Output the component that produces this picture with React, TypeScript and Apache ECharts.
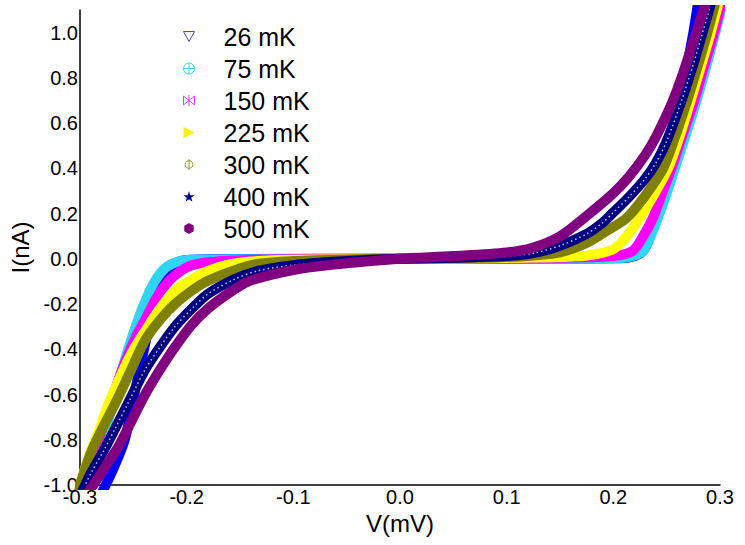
import React, { useEffect, useRef } from "react";
import * as echarts from "echarts";

const seriesNames = ["26 mK", "75 mK", "150 mK", "225 mK", "300 mK", "400 mK", "500 mK"];
const seriesColors = ["#0000ff", "#2fd5f2", "#ff00ff", "#ffff00", "#808000", "#000080", "#800080"];

const iv26: number[][] = [
  [-0.279, -1.03], [-0.268, -0.92], [-0.258, -0.8], [-0.25, -0.62], [-0.24, -0.4], [-0.23, -0.2],
  [-0.22, -0.07], [-0.21, -0.02], [-0.2, -0.005], [-0.15, -0.001], [0, 0], [0.15, 0.001], [0.2, 0.002],
  [0.215, 0.006], [0.228, 0.035], [0.235, 0.12], [0.245, 0.3], [0.255, 0.5], [0.265, 0.75], [0.275, 1.0], [0.279, 1.12],
];
const iv75: number[][] = [
  [-0.291, -1.03], [-0.28, -0.84], [-0.27, -0.65], [-0.26, -0.48], [-0.25, -0.33], [-0.24, -0.2],
  [-0.23, -0.1], [-0.22, -0.04], [-0.21, -0.015], [-0.2, -0.005], [-0.15, -0.002], [0, 0], [0.15, 0.002],
  [0.2, 0.003], [0.215, 0.008], [0.228, 0.035], [0.235, 0.1], [0.2418, 0.181], [0.25, 0.29], [0.2578, 0.402],
  [0.268, 0.55], [0.278, 0.7], [0.287, 0.85], [0.295, 0.99], [0.302, 1.12],
];
const iv150: number[][] = [
  [-0.302, -1.03], [-0.295, -0.95], [-0.285, -0.83], [-0.277, -0.72], [-0.268, -0.59], [-0.258, -0.46],
  [-0.248, -0.35], [-0.239, -0.27], [-0.228, -0.17], [-0.217, -0.1], [-0.206, -0.055], [-0.196, -0.03],
  [-0.18, -0.015], [-0.15, -0.006], [-0.1, -0.002], [0, 0], [0.1, 0.002], [0.15, 0.005], [0.2, 0.012],
  [0.218, 0.035], [0.228, 0.1], [0.2371, 0.181], [0.245, 0.28], [0.2546, 0.402], [0.265, 0.55],
  [0.2759, 0.7], [0.285, 0.85], [0.2938, 0.99], [0.301, 1.12],
];
const iv225: number[][] = [
  [-0.302, -1.03], [-0.292, -0.88], [-0.283, -0.77], [-0.274, -0.65], [-0.264, -0.54], [-0.252, -0.42],
  [-0.239, -0.32], [-0.225, -0.22], [-0.211, -0.14], [-0.195, -0.09], [-0.18, -0.053], [-0.16, -0.025],
  [-0.14, -0.012], [-0.1, -0.004], [0, 0], [0.1, 0.004], [0.15, 0.008], [0.175, 0.014], [0.199, 0.04],
  [0.21, 0.085], [0.2248, 0.181], [0.24, 0.3], [0.2515, 0.402], [0.262, 0.54], [0.2725, 0.7],
  [0.282, 0.85], [0.2907, 0.99], [0.298, 1.12],
];
const iv300: number[][] = [
  [-0.302, -1.03], [-0.29, -0.86], [-0.279, -0.75], [-0.267, -0.64], [-0.253, -0.5], [-0.239, -0.36],
  [-0.225, -0.27], [-0.211, -0.2], [-0.195, -0.14], [-0.18, -0.097], [-0.155, -0.05], [-0.133, -0.022],
  [-0.1, -0.01], [-0.05, -0.003], [0, 0], [0.05, 0.002], [0.1, 0.008], [0.125, 0.015], [0.15, 0.028],
  [0.175, 0.07], [0.194, 0.124], [0.2126, 0.181], [0.23, 0.28], [0.2468, 0.4], [0.258, 0.54],
  [0.2693, 0.7], [0.279, 0.85], [0.2876, 0.99], [0.295, 1.12],
];
const iv400: number[][] = [
  [-0.298, -1.03], [-0.29, -0.95], [-0.278, -0.85], [-0.267, -0.75], [-0.253, -0.62], [-0.239, -0.49],
  [-0.225, -0.39], [-0.211, -0.3], [-0.195, -0.22], [-0.18, -0.155], [-0.155, -0.09], [-0.133, -0.053],
  [-0.1, -0.028], [-0.05, -0.01], [0, 0], [0.05, 0.005], [0.1, 0.012], [0.125, 0.025], [0.15, 0.058],
  [0.175, 0.11], [0.19, 0.16], [0.2, 0.205], [0.215, 0.275], [0.23, 0.355], [0.24, 0.425], [0.25, 0.52],
  [0.264, 0.7], [0.275, 0.86], [0.283, 0.99], [0.291, 1.12],
];
const iv500: number[][] = [
  [-0.292, -1.03], [-0.286, -0.99], [-0.275, -0.91], [-0.264, -0.83], [-0.252, -0.72], [-0.239, -0.6],
  [-0.225, -0.49], [-0.211, -0.39], [-0.195, -0.29], [-0.18, -0.22], [-0.16, -0.15], [-0.142, -0.1],
  [-0.12, -0.07], [-0.095, -0.045], [-0.05, -0.02], [0, 0], [0.05, 0.012], [0.1, 0.028], [0.125, 0.05],
  [0.15, 0.1], [0.175, 0.19], [0.2, 0.29], [0.215, 0.365], [0.23, 0.46], [0.24, 0.54], [0.255, 0.69],
  [0.266, 0.83], [0.277, 0.99], [0.286, 1.12],
];
const seriesData = [iv26, iv75, iv150, iv225, iv300, iv400, iv500];

const legendIcons = [
  "path://M0,0 L10,0 L5,9 Z",
  "path://M5,0 A5,5 0 1,1 4.99,0 Z M5,0 L5,10 M0,5 L10,5",
  "path://M0,1 L10,9 L10,1 L0,9 Z M5,0 L5,10",
  "path://M0,0 L10,5 L0,10 Z",
  "path://M5,1.5 A3.5,3.5 0 1,1 4.99,1.5 Z M5,0 L5,10",
  "path://M5,0 L6.2,3.6 L10,3.6 L7,5.9 L8.1,9.5 L5,7.3 L1.9,9.5 L3,5.9 L0,3.6 L3.8,3.6 Z",
  "path://M5,0 L9.3,2.5 L9.3,7.5 L5,10 L0.7,7.5 L0.7,2.5 Z",
];
const legendIconColors = ["#4a44aa", "#2fd5f2", "#e040e0", "#f4f400", "#9a9a30", "#000080", "#800080"];
const legendIconFilled = [false, false, false, true, false, true, true];

const FONT = "'Liberation Sans', Arial, sans-serif";

export default function App() {
  const ref = useRef<HTMLDivElement>(null);
  useEffect(() => {
    if (!ref.current) return;
    const chart = echarts.init(ref.current, null, { renderer: "svg" });
    const bands: any[] = [];
    seriesNames.forEach((n, k) => {
      bands.push({
        name: n,
        type: "line",
        data: seriesData[k],
        showSymbol: false,
        symbol: "none",
        smooth: 0.3,
        clip: true,
        color: seriesColors[k],
        lineStyle: { color: seriesColors[k], width: 10, cap: "round", join: "round" },
      });
      if (k === 5) {
        bands.push({
          name: n + " markers",
          type: "line",
          data: seriesData[k],
          showSymbol: false,
          symbol: "none",
          smooth: 0.3,
          clip: true,
          silent: true,
          lineStyle: { color: "rgba(255,255,255,0.75)", width: 1.5, type: [1.5, 3] },
        });
      }
    });
    chart.setOption({
      animation: false,
      backgroundColor: "#ffffff",
      grid: { left: 80, right: 25, top: 10, bottom: 60 },
      legend: {
        orient: "vertical",
        left: 178,
        top: 19,
        itemWidth: 11,
        itemHeight: 11,
        itemGap: 7,
        selectedMode: false,
        textStyle: { fontSize: 25, fontFamily: FONT, color: "#000", lineHeight: 20, padding: [0, 0, 0, 24] },
        data: seriesNames.map((n, k) => ({
          name: n,
          icon: legendIcons[k],
          itemStyle: legendIconFilled[k]
            ? { color: legendIconColors[k], borderWidth: 0 }
            : { color: "rgba(0,0,0,0)", borderColor: legendIconColors[k], borderWidth: 1 },
        })),
      },
      xAxis: {
        type: "value",
        min: -0.3,
        max: 0.3,
        interval: 0.1,
        name: "V(mV)",
        nameLocation: "middle",
        nameGap: 25,
        nameTextStyle: { fontSize: 24, fontFamily: FONT, color: "#000" },
        axisLine: { show: true, onZero: false, lineStyle: { color: "#000", width: 1.5 } },
        axisTick: { show: false },
        splitLine: { show: false },
        axisLabel: {
          fontSize: 20,
          fontFamily: FONT,
          color: "#000",
          margin: 2,
          formatter: (v: number) => v.toFixed(1),
        },
      },
      yAxis: {
        type: "value",
        min: -1.0,
        max: 1.1,
        interval: 0.2,
        name: "I(nA)",
        nameLocation: "middle",
        nameGap: 48,
        nameTextStyle: { fontSize: 24, fontFamily: FONT, color: "#000" },
        axisLine: { show: true, onZero: false, lineStyle: { color: "#000", width: 1.5 } },
        axisTick: { show: false },
        splitLine: { show: false },
        axisLabel: {
          fontSize: 20,
          fontFamily: FONT,
          color: "#000",
          margin: 2,
          showMaxLabel: false,
          formatter: (v: number) => (Math.abs(v * 5 - Math.round(v * 5)) < 1e-6 ? v.toFixed(1) : ""),
        },
      },
      series: bands,
    });
    return () => chart.dispose();
  }, []);
  return (
    <div
      ref={ref}
      style={{ position: "absolute", left: 0, top: 0, width: 745, height: 545 }}
    />
  );
}
